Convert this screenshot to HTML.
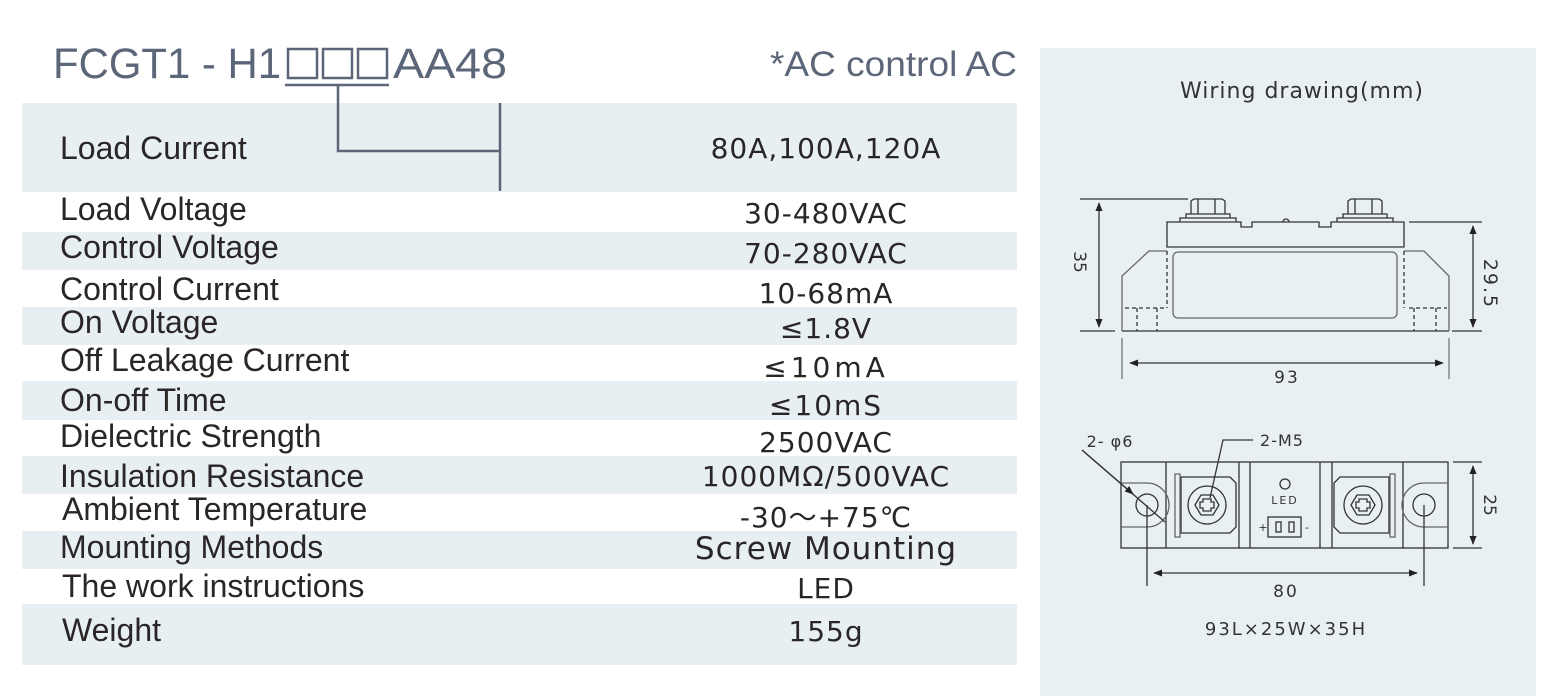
<!DOCTYPE html>
<html><head><meta charset="utf-8"><style>
html,body{margin:0;padding:0;background:#fff;width:1565px;height:696px;overflow:hidden}
svg{display:block}
.l{font-family:"Liberation Sans","DejaVu Sans",sans-serif;font-size:32px;fill:#2a2526}
.v{font-family:"DejaVu Sans","Liberation Sans",sans-serif;font-size:28px;fill:#2a2526;text-anchor:middle;letter-spacing:1px}
.d{font-family:"DejaVu Sans","Liberation Sans",sans-serif;fill:#333;text-anchor:middle}
</style></head><body>
<svg width="1565" height="696" viewBox="0 0 1565 696" xmlns="http://www.w3.org/2000/svg">
<defs>
<marker id="a" viewBox="0 0 10 10" refX="9" refY="5" markerWidth="9" markerHeight="9" orient="auto-start-reverse" markerUnits="userSpaceOnUse"><path d="M0,1 L10,5 L0,9 z" fill="#222"/></marker>
</defs>
<g fill="#e8eff3">
<rect x="22" y="103" width="995" height="89"/>
<rect x="22" y="232" width="995" height="38"/>
<rect x="22" y="307" width="995" height="38"/>
<rect x="22" y="381" width="995" height="39"/>
<rect x="22" y="456" width="995" height="38"/>
<rect x="22" y="531" width="995" height="38"/>
<rect x="22" y="604" width="995" height="61"/>
</g>
<rect x="1040" y="48" width="496" height="648" fill="#e9f0f4"/>
<text x="53" y="78" font-family="Liberation Sans,sans-serif" font-size="43" fill="#5c6679" textLength="228" lengthAdjust="spacingAndGlyphs">FCGT1 - H1</text>
<g fill="none" stroke="#5c6679" stroke-width="2.5">
<rect x="288" y="49" width="29" height="29"/><rect x="323" y="49" width="29" height="29"/><rect x="358" y="49" width="29" height="29"/>
<path d="M285 85 H389 M338 85 V151 H500 M500 103 V191"/>
</g>
<text x="393" y="78" font-family="Liberation Sans,sans-serif" font-size="43" fill="#5c6679" textLength="114" lengthAdjust="spacingAndGlyphs">AA48</text>
<text x="770" y="76" font-family="Liberation Sans,sans-serif" font-size="35" fill="#5c6679" textLength="247" lengthAdjust="spacingAndGlyphs">*AC control AC</text>
<g class="l">
<text x="60" y="159">Load Current</text>
<text x="60" y="220">Load Voltage</text>
<text x="60" y="258">Control Voltage</text>
<text x="60" y="300">Control Current</text>
<text x="60" y="333">On Voltage</text>
<text x="60" y="371">Off Leakage Current</text>
<text x="60" y="411">On-off Time</text>
<text x="60" y="447">Dielectric Strength</text>
<text x="60" y="487">Insulation Resistance</text>
<text x="62" y="520">Ambient Temperature</text>
<text x="60" y="558">Mounting Methods</text>
<text x="62" y="597">The work instructions</text>
<text x="62" y="641">Weight</text>
</g>
<g class="v">
<text x="826" y="158">80A,100A,120A</text>
<text x="826" y="223">30-480VAC</text>
<text x="826" y="263">70-280VAC</text>
<text x="826" y="303">10-68mA</text>
<text x="826" y="338">≤1.8V</text>
<text x="826" y="377" letter-spacing="4">≤10mA</text>
<text x="826" y="415" letter-spacing="2">≤10mS</text>
<text x="826" y="452">2500VAC</text>
<text x="826" y="486">1000MΩ/500VAC</text>
<text x="826" y="527">-30～+75℃</text>
<text x="826" y="559" font-size="31">Screw Mounting</text>
<text x="826" y="598">LED</text>
<text x="826" y="641">155g</text>
</g>
<text x="1302" y="98" class="d" font-size="22" letter-spacing="1">Wiring drawing(mm)</text>
<g fill="none" stroke="#333" stroke-width="1.3">
<path d="M1080 199 H1188 M1080 331 H1115 M1122 331 H1449 M1409 222 H1482 M1452 331 H1482"/>
<path d="M1099 203 V327" marker-start="url(#a)" marker-end="url(#a)"/>
<path d="M1473 226 V327" marker-start="url(#a)" marker-end="url(#a)"/>
<path d="M1167 247 V222 H1241 V227 H1252 V222 H1319 V227 H1331 V222 H1404 V247 Z" />
<path d="M1167 251 H1149 L1122 276 V331 M1404 251 H1424 L1449 276 V331" stroke="#666"/>
<rect x="1173" y="252" width="224" height="66" rx="5" stroke="#666"/>
<path d="M1167 251 V308 M1125 308 H1167 M1137 308 V331 M1157 308 V331 M1404 251 V308 M1409 308 H1447 M1414 308 V331 M1436 308 V331" stroke-dasharray="4,3"/>
<path d="M1180 222 V218 H1236 V222 M1186 218 V214 H1230 V218 M1191 214 V201 L1194 199 H1222 L1225 201 V214 M1198 199 V214 M1215 199 V214"/>
<path d="M1337 222 V218 H1393 V222 M1343 218 V214 H1387 V218 M1348 214 V201 L1351 199 H1379 L1382 201 V214 M1355 199 V214 M1372 199 V214"/>
<path d="M1283 222 A3 3 0 0 1 1289 222"/>
<path d="M1122 338 V379 M1449 338 V379" stroke="#777"/>
<path d="M1130 363 H1443" marker-start="url(#a)" marker-end="url(#a)"/>
</g>
<text class="d" font-size="17" transform="translate(1074,262) rotate(90)">35</text>
<text class="d" font-size="19" letter-spacing="2" transform="translate(1484,284) rotate(90)">29.5</text>
<text class="d" font-size="17" x="1287" y="383" letter-spacing="2">93</text>
<g fill="none" stroke="#333" stroke-width="1.3">
<rect x="1121" y="462" width="327" height="86"/>
<path d="M1166 462 V548 M1239 462 V548 M1250 462 V548 M1320 462 V548 M1332 462 V548 M1403 462 V548"/>
<path d="M1121 483 H1147 A22 22 0 0 1 1147 527 H1121" stroke="#666"/>
<path d="M1448 483 H1424 A22 22 0 0 0 1424 527 H1448" stroke="#666"/>
<circle cx="1147" cy="505" r="11"/><circle cx="1424" cy="505" r="11"/>
<path d="M1181 477 H1230 L1236 483 V527 L1230 533 H1181 Z"/>
<rect x="1175" y="474" width="5" height="63" stroke="#666"/>
<circle cx="1207" cy="505" r="19"/>
<path d="M1195 505 L1201 495 H1213 L1219 505 L1213 515 H1201 Z"/>
<path d="M1203 499 H1211 V502 H1214 V508 H1211 V511 H1203 V508 H1200 V502 H1203 Z"/>
<path d="M1389 477 H1340 L1334 483 V527 L1340 533 H1389 Z"/>
<rect x="1390" y="474" width="5" height="63" stroke="#666"/>
<circle cx="1363" cy="505" r="19"/>
<path d="M1351 505 L1357 495 H1369 L1375 505 L1369 515 H1357 Z"/>
<path d="M1359 499 H1367 V502 H1370 V508 H1367 V511 H1359 V508 H1356 V502 H1359 Z"/>
<circle cx="1285" cy="484" r="5"/>
<rect x="1268" y="517" width="33" height="20"/>
<rect x="1276" y="522" width="5" height="10"/><rect x="1289" y="522" width="5" height="10"/>
<path d="M1453 462 H1482 M1453 548 H1482 M1147 505 V586 M1424 505 V586" />
<path d="M1473 466 V544" marker-start="url(#a)" marker-end="url(#a)"/>
<path d="M1154 573 H1417" marker-start="url(#a)" marker-end="url(#a)"/>
<path d="M1253 440 H1223 L1210 498"/>
<path d="M1082 450 L1165 522"/>
<path d="M1082 450 L1133 494" marker-end="url(#a)"/>
</g>
<text class="d" font-size="11" x="1285" y="504" letter-spacing="2">LED</text>
<text class="d" font-size="11" x="1263" y="531">+</text>
<text class="d" font-size="11" x="1307" y="531">-</text>
<text class="d" font-size="16" x="1282" y="446" letter-spacing="1">2-M5</text>
<text class="d" font-size="16" x="1110" y="447" letter-spacing="1">2- φ6</text>
<text class="d" font-size="17" transform="translate(1484,505) rotate(90)">25</text>
<text class="d" font-size="17" x="1286" y="597" letter-spacing="2">80</text>
<text class="d" font-size="18" x="1286" y="635" letter-spacing="2">93L×25W×35H</text>
</svg>
</body></html>
